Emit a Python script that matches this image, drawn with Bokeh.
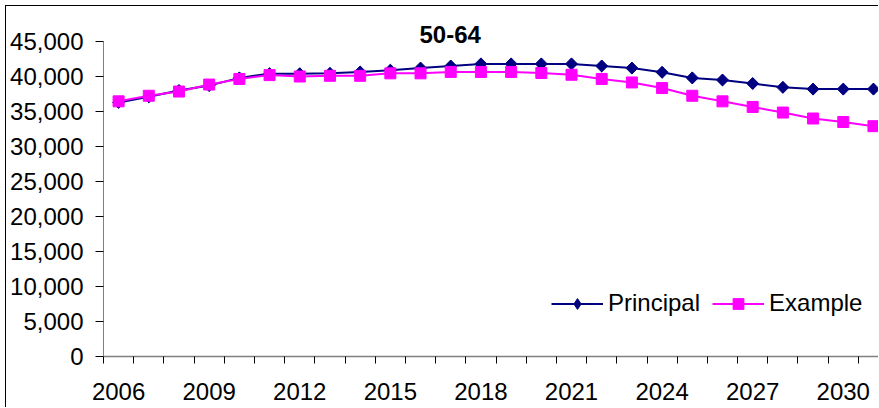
import math
from bokeh.plotting import figure
from bokeh.models import (ColumnDataSource, FixedTicker, NumeralTickFormatter, Legend,
                          LegendItem, Title, Range1d)
from bokeh.embed import file_html
from bokeh.resources import INLINE

years = list(range(2006, 2032))
principal = [36300, 37100, 38000, 38700, 39800, 40400, 40400, 40450, 40650, 40900,
             41200, 41500, 41800, 41800, 41800, 41800, 41500, 41200, 40600, 39800,
             39500, 39000, 38450, 38200, 38200, 38200]
example = [36450, 37250, 37850, 38850, 39650, 40200, 40000, 40100, 40100, 40450,
           40450, 40650, 40650, 40650, 40500, 40250, 39650, 39150, 38350, 37250,
           36450, 35650, 34850, 34000, 33500, 32900]
x_tick_labels = ["2006", "2009", "2012", "2015", "2018", "2021", "2024", "2027", "2030"]
y_ticks = [0, 5000, 10000, 15000, 20000, 25000, 30000, 35000, 40000, 45000]
title_text = "50-64"
series_names = ["Principal", "Example"]

FONT = "Liberation Sans"
FS = "24px"

src = ColumnDataSource(dict(x=years, p=principal, e=example))

p = figure(width=873, height=402, output_backend="svg", toolbar_location=None,
           x_range=Range1d(2005.5, 2031.2), y_range=Range1d(0, 45000),
           min_border_left=97, min_border_right=0, min_border_top=35, min_border_bottom=52,
           margin=(5, 0, 0, 5),
           background_fill_color="white", border_fill_color="white")
p.styles = {"border-left": "1px solid #000", "border-top": "1px solid #000"}
p.outline_line_color = None
p.xgrid.visible = False
p.ygrid.visible = False

# x axis
xt = [int(t) for t in x_tick_labels]
p.xaxis.ticker = FixedTicker(ticks=xt, minor_ticks=[y - 0.5 for y in years] + [years[-1] + 0.5])
p.xaxis.major_label_overrides = {t: s for t, s in zip(xt, x_tick_labels)}
p.xaxis.major_tick_line_color = None
p.xaxis.minor_tick_out = 7
p.xaxis.minor_tick_in = 0
p.xaxis.minor_tick_line_color = "#000000"
p.xaxis.axis_line_color = "#808080"
p.xaxis.axis_line_width = 1.5
p.xaxis.major_label_text_font = FONT
p.xaxis.major_label_text_font_size = FS
p.xaxis.major_label_text_color = "#000000"
p.xaxis.major_label_standoff = 19

# y axis
p.yaxis.ticker = FixedTicker(ticks=y_ticks, minor_ticks=[])
p.yaxis.formatter = NumeralTickFormatter(format="0,0")
p.yaxis.major_tick_out = 8
p.yaxis.major_tick_in = 0
p.yaxis.major_tick_line_color = "#000000"
p.yaxis.minor_tick_line_color = None
p.yaxis.axis_line_color = "#808080"
p.yaxis.major_label_text_font = FONT
p.yaxis.major_label_text_font_size = FS
p.yaxis.major_label_text_color = "#000000"
p.yaxis.major_label_standoff = 12

lp = p.line("x", "p", source=src, line_color="#000080", line_width=2)
# plain diamond underneath (used for the legend key), rotated square on top
sd = p.scatter("x", "p", source=src, marker="diamond", size=11,
               fill_color="#000080", line_color="#000080")
sp = p.scatter("x", "p", source=src, marker="square", angle=math.pi / 4, size=8.5,
               fill_color="#000080", line_color="#000080")
le = p.line("x", "e", source=src, line_color="#FF00FF", line_width=2)
se = p.scatter("x", "e", source=src, marker="square", size=11,
               fill_color="#FF00FF", line_color="#FF00FF")

legend = Legend(items=[LegendItem(label=series_names[0], renderers=[lp, sd]),
                       LegendItem(label=series_names[1], renderers=[le, se])],
                orientation="horizontal", location=(448, 39),
                label_text_font=FONT, label_text_font_size=FS, label_text_color="#000000",
                glyph_width=52, glyph_height=27, label_height=27, label_standoff=5,
                spacing=12, padding=0, margin=0,
                border_line_color=None, background_fill_alpha=0)
p.add_layout(legend, "center")

title = Title(text=title_text, align="left", offset=316, standoff=-3,
              text_font=FONT, text_font_size=FS, text_font_style="bold",
              text_color="#000000")
p.add_layout(title, "above")

open("out.html", "w").write(file_html(p, INLINE))
